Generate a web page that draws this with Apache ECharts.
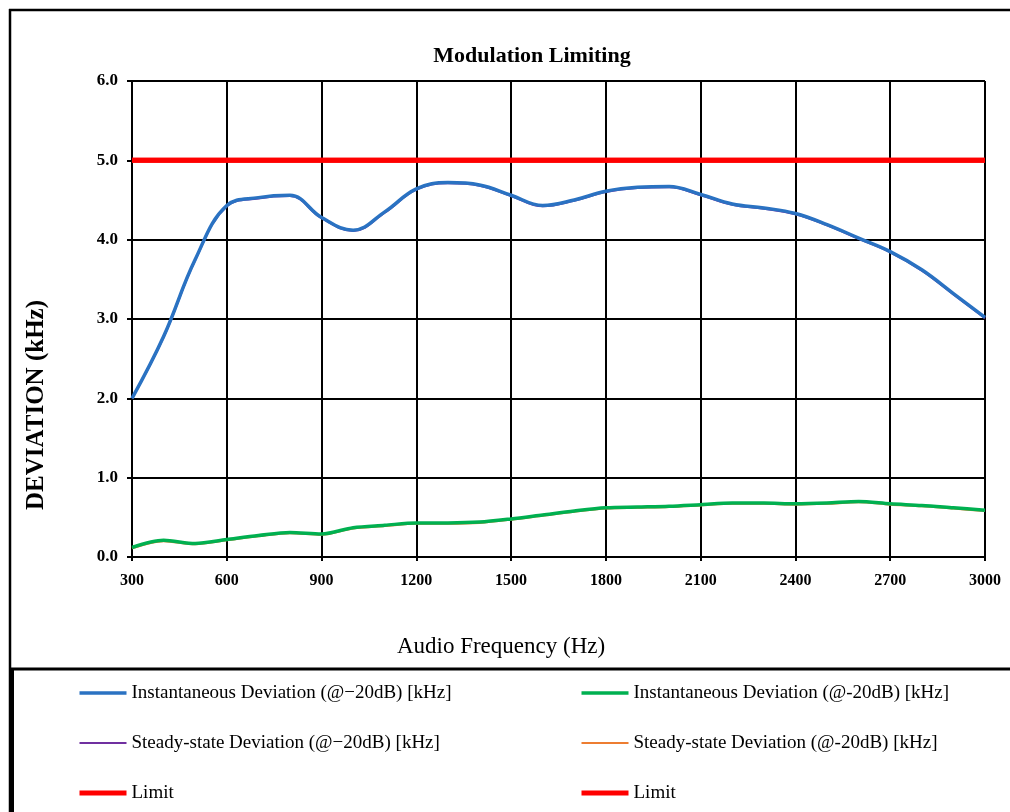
<!DOCTYPE html>
<html>
<head>
<meta charset="utf-8">
<script src="https://cdn.jsdelivr.net/npm/echarts@6/dist/echarts.min.js"></script>
<style>html,body{margin:0;padding:0;background:#fff;}#c{width:1010px;height:812px;}</style>
</head>
<body>
<div id="c"></div>
<script>
var freqs = [300,400,500,600,700,800,900,1000,1100,1200,1300,1400,1500,1600,1700,1800,1900,2000,2100,2200,2300,2400,2500,2600,2700,2800,2900,3000];
var instHigh = [2.00,2.78,3.75,4.43,4.53,4.56,4.28,4.12,4.35,4.64,4.72,4.69,4.56,4.43,4.50,4.61,4.66,4.67,4.57,4.45,4.40,4.33,4.19,4.02,3.85,3.62,3.32,3.02];
var steadyHigh = [2.00,2.77,3.74,4.42,4.52,4.55,4.27,4.11,4.34,4.63,4.71,4.68,4.55,4.42,4.49,4.60,4.65,4.66,4.56,4.44,4.39,4.32,4.18,4.01,3.84,3.61,3.31,3.01];
var instLow = [0.12,0.21,0.17,0.22,0.27,0.31,0.29,0.37,0.40,0.43,0.43,0.44,0.48,0.53,0.58,0.62,0.63,0.64,0.66,0.68,0.68,0.67,0.68,0.70,0.67,0.65,0.62,0.59];
var steadyLow = [0.11,0.20,0.16,0.21,0.26,0.30,0.28,0.36,0.39,0.42,0.42,0.43,0.47,0.52,0.57,0.61,0.62,0.63,0.65,0.67,0.67,0.66,0.67,0.69,0.66,0.64,0.61,0.58];
var limitFreqs = [300, 3000];
var limitValues = [5.0, 5.0];
var xTicks = {min: 300, max: 3000, interval: 300};
var yTicks = {min: 0, max: 6, interval: 1};

var names = {
  instHigh: 'Instantaneous Deviation (@\u221220dB) [kHz]',
  instLow: 'Instantaneous Deviation (@-20dB) [kHz]',
  steadyHigh: 'Steady-state Deviation (@\u221220dB) [kHz]',
  steadyLow: 'Steady-state Deviation (@-20dB) [kHz]',
  limit1: 'Limit',
  limit2: 'Limit '
};

function pairs(xs, ys){ return xs.map(function(x,i){ return [x, ys[i]]; }); }

var serif = '"Liberation Serif", "Times New Roman", serif';
var chart = echarts.init(document.getElementById('c'), null, {renderer:'canvas'});
var legendText = {fontFamily: serif, fontSize: 19, color: '#000', lineHeight: 22};
function legendCfg(data, left){
  return {data: data, orient: 'vertical', left: left, top: 682, height: 130, padding: 0,
    itemWidth: 47, itemHeight: 14, itemGap: 28, textStyle: legendText,
    itemStyle: {opacity: 0}, lineStyle: {width: 'inherit'}};
}
var option = {
  backgroundColor: '#fff',
  animation: false,
  title: {
    text: 'Modulation Limiting',
    left: 527, top: 40, textAlign: 'center',
    textStyle: {fontFamily: serif, fontSize: 22, fontWeight: 'bold', color: '#000'}
  },
  grid: {left: 132, right: 25, top: 81, bottom: 255, containLabel: false},
  legend: [
    legendCfg([names.instHigh, names.steadyHigh, names.limit1], 77),
    legendCfg([names.instLow, names.steadyLow, names.limit2], 579)
  ],
  xAxis: {
    type: 'value', min: xTicks.min, max: xTicks.max, interval: xTicks.interval,
    name: 'Audio Frequency (Hz)', nameLocation: 'middle', nameGap: 78,
    nameTextStyle: {fontFamily: serif, fontSize: 23, color: '#000', padding: [0,0,0,-115]},
    axisLine: {show: true, lineStyle: {color: '#000', width: 2}},
    axisTick: {show: true, length: 4, lineStyle: {color: '#000', width: 2}},
    axisLabel: {fontFamily: serif, fontSize: 16, fontWeight: 'bold', color: '#000', margin: 16,
      formatter: function(v){ return String(v); }},
    splitLine: {show: true, lineStyle: {color: '#000', width: 2}}
  },
  yAxis: {
    type: 'value', min: yTicks.min, max: yTicks.max, interval: yTicks.interval,
    axisLine: {show: true, lineStyle: {color: '#000', width: 2}},
    axisTick: {show: true, length: 5, lineStyle: {color: '#000', width: 2}},
    axisLabel: {fontFamily: serif, fontSize: 17, fontWeight: 'bold', color: '#000', margin: 14,
      formatter: function(v){ return v.toFixed(1); }},
    splitLine: {show: true, lineStyle: {color: '#000', width: 2}}
  },
  graphic: [
    {type: 'text', left: 24, top: 300, rotation: Math.PI/2, z: 10,
     style: {text: 'DEVIATION (kHz)', fontFamily: serif, fontSize: 25, fontWeight: 'bold', fill: '#000'}},
    {type: 'line', shape: {x1: 9, y1: 10, x2: 1010, y2: 10}, style: {stroke: '#000', lineWidth: 2.5}},
    {type: 'line', shape: {x1: 10, y1: 9, x2: 10, y2: 812}, style: {stroke: '#000', lineWidth: 2.5}},
    {type: 'line', shape: {x1: 10, y1: 669, x2: 1010, y2: 669}, style: {stroke: '#000', lineWidth: 3}},
    {type: 'line', shape: {x1: 12, y1: 669, x2: 12, y2: 812}, style: {stroke: '#000', lineWidth: 4}}
  ],
  series: [
    {name: names.steadyHigh, type: 'line', data: pairs(freqs, steadyHigh), smooth: 0.4, symbol: 'none',
     lineStyle: {color: '#7030a0', width: 2}, itemStyle: {color: '#7030a0'}, z: 2},
    {name: names.instHigh, type: 'line', data: pairs(freqs, instHigh), smooth: 0.4, symbol: 'none',
     lineStyle: {color: '#2a72c2', width: 3.5}, itemStyle: {color: '#2a72c2'}, z: 3},
    {name: names.steadyLow, type: 'line', data: pairs(freqs, steadyLow), smooth: 0.3, symbol: 'none',
     lineStyle: {color: '#ed7d31', width: 2}, itemStyle: {color: '#ed7d31'}, z: 2},
    {name: names.instLow, type: 'line', data: pairs(freqs, instLow), smooth: 0.3, symbol: 'none',
     lineStyle: {color: '#00b050', width: 3.5}, itemStyle: {color: '#00b050'}, z: 3},
    {name: names.limit1, type: 'line', data: pairs(limitFreqs, limitValues), symbol: 'none',
     lineStyle: {color: '#ff0000', width: 5}, itemStyle: {color: '#ff0000'}, z: 4},
    {name: names.limit2, type: 'line', data: pairs(limitFreqs, limitValues), symbol: 'none',
     lineStyle: {color: '#ff0000', width: 5}, itemStyle: {color: '#ff0000'}, z: 4}
  ]
};
chart.setOption(option);
</script>
</body>
</html>
